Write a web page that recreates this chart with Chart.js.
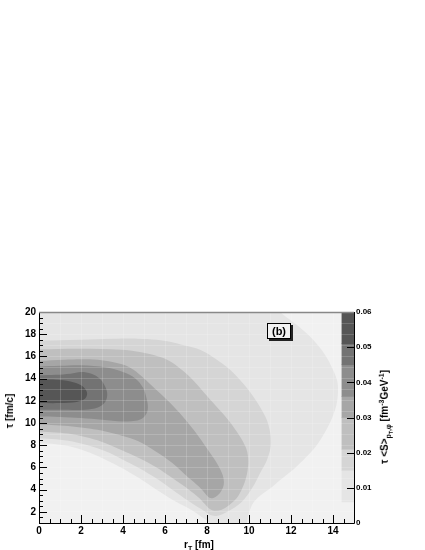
<!DOCTYPE html>
<html>
<head>
<meta charset="utf-8">
<script src="https://cdn.jsdelivr.net/npm/chart.js@4"></script>
<style>
body { margin: 0; background: #fff; }
#wrap { position: relative; width: 425px; height: 550px; font-family: "Liberation Sans", Arial, sans-serif; font-weight: bold; color: #000; }
canvas { position: absolute; left: 0; top: 0; }
.t { position: absolute; white-space: nowrap; font-size: 10px; line-height: 1; }
.t sub, .t sup { font-size: 70%; line-height: 0; }
#ytitle { left: 10px; top: 411px; transform: translate(-50%, -50%) rotate(-90deg); }
#xtitle { left: 199px; top: 545px; transform: translate(-50%, -50%); }
#ztitle { left: 386px; top: 417px; transform: translate(-50%, -50%) rotate(-90deg); }
#tag { position: absolute; left: 267px; top: 323px; width: 22px; height: 14px; border: 1px solid #000; background: #f2f2f2; box-shadow: 2px 2px 0 #222; font-size: 11px; text-align: center; line-height: 14px; }
</style>
</head>
<body>
<div id="wrap">
  <canvas id="contourChart" width="425" height="550"></canvas>
  <div class="t" id="ytitle">τ [fm/c]</div>
  <div class="t" id="xtitle">r<sub>T</sub> [fm]</div>
  <div class="t" id="ztitle">τ &lt;S&gt;<sub>p<sub>T</sub>,φ</sub> [fm<sup>-3</sup>GeV<sup>-1</sup>]</div>
  <div id="tag">(b)</div>
</div>
<script>
"use strict";

// tick labels
const rLabels = [0, 2, 4, 6, 8, 10, 12, 14];
const tauLabels = [2, 4, 6, 8, 10, 12, 14, 16, 18, 20];
const zLabels = [0, 0.01, 0.02, 0.03, 0.04, 0.05, 0.06];

// contour levels of tau<S> and the grey used above each one
const zLevels = [0, 0.006, 0.015, 0.021, 0.030, 0.036, 0.045, 0.051, 0.060];
const zColors = ['#f1f1f1', '#e5e5e5', '#d5d5d5', '#bfbfbf', '#a6a6a6', '#8d8d8d', '#737373', '#565656'];

// contour outlines, [r_T fm, tau fm/c]
const cont006 = [[-1,21],[11.1,21],[11.48,20],[12.3,18.8],[13.05,17.5],[13.6,16.2],[14.0,14.8],[14.2,13.8],[14.24,13.0],
  [14.2,12.0],[14.1,11.2],[13.85,10.0],[13.5,8.8],[13.1,7.7],[12.6,6.7],[12.1,5.8],[11.5,4.9],[11.0,4.1],[10.5,3.4],
  [10.2,2.8],[10.05,2.2],[9.95,1.6],[9.9,1.0],[9.7,0.6],[9.2,0.5],[8.6,0.6],[8.2,0.9],[7.9,1.35],[7.6,1.75],[7.14,2.3],
  [6.35,3.1],[5.6,4.0],[4.76,5.05],[3.9,6.0],[3.17,6.7],[2.4,7.35],[1.59,7.85],[0.8,8.1],[0,8.19],[-1,8.25]];
const cont015 = [[-1,17.42],[0,17.42],[2,17.5],[3.5,17.58],[4.71,17.6],[5.6,17.5],[6.29,17.3],[6.9,17.0],[7.67,16.6],
  [8.4,15.8],[9.1,14.8],[9.7,13.6],[10.2,12.4],[10.6,11.2],[10.9,10.0],[11.05,8.2],[10.86,6.7],[10.5,5.4],[10.2,4.3],
  [9.8,3.2],[9.4,2.5],[8.9,1.95],[8.5,1.65],[8.2,1.7],[7.94,2.0],[7.5,2.5],[7.14,2.95],[6.35,4.0],[5.6,5.0],[4.76,5.95],
  [3.95,6.75],[3.17,7.45],[2.4,7.95],[1.59,8.34],[0.8,8.55],[0,8.64],[-1,8.7]];
const cont021 = [[-1,16.65],[0,16.65],[2,16.7],[3.9,16.6],[4.8,16.4],[5.5,16.1],[6.1,15.7],[6.6,15.1],[7.1,14.3],
  [7.7,13.1],[8.3,11.8],[9.0,10.3],[9.57,8.8],[9.85,7.8],[9.95,7.0],[9.95,6.0],[9.85,5.0],[9.65,4.0],[9.4,3.2],
  [9.05,2.6],[8.7,2.2],[8.35,2.1],[8.1,2.3],[7.9,2.7],[7.6,3.3],[7.14,4.0],[6.35,5.05],[5.6,6.0],[4.76,6.85],
  [3.95,7.55],[3.17,8.19],[2.4,8.65],[1.59,9.0],[0.8,9.15],[0,9.24],[-1,9.28]];
const cont030 = [[-1,15.6],[0,15.6],[1.2,15.7],[2,15.75],[2.8,15.7],[3.5,15.5],[4.1,15.2],[4.5,14.8],[4.9,14.2],
  [5.3,13.5],[5.7,12.8],[6.2,11.9],[6.7,10.9],[7.4,9.3],[8.0,7.7],[8.5,6.3],[8.75,5.3],[8.8,4.5],[8.65,3.8],
  [8.4,3.35],[8.15,3.25],[7.94,3.6],[7.6,4.3],[7.14,5.05],[6.35,6.4],[5.56,7.44],[4.76,8.34],[3.95,8.85],
  [3.17,9.24],[2.4,9.5],[1.59,9.69],[0.8,9.8],[0,9.84],[-1,9.86]];
const cont036 = [[-1,15.1],[0,15.1],[1,15.15],[2,15.2],[3.2,15.0],[4.0,14.6],[4.6,14.0],[4.95,13.2],[5.1,12.4],
  [5.18,11.6],[5.15,11.0],[4.95,10.45],[4.6,10.2],[4.0,10.15],[3.0,10.3],[2,10.45],[1,10.55],[0,10.6],[-1,10.62]];
const cont045 = [[-1,14.3],[0,14.3],[0.8,14.35],[1.5,14.45],[2.0,14.6],[2.5,14.45],[2.9,14.0],[3.15,13.3],[3.25,12.6],
  [3.15,11.9],[2.8,11.4],[2.2,11.2],[1,11.2],[0,11.2],[-1,11.2]];
const cont051 = [[-1,13.9],[0,13.9],[0.8,13.9],[1.5,13.75],[2.0,13.4],[2.28,12.8],[2.2,12.2],[1.8,11.9],[1,11.8],
  [0,11.8],[-1,11.8]];

const contours = [cont006, cont015, cont021, cont030, cont036, cont045, cont051];
const barX = 14.71; // colour bar sits inside the right edge of the frame

const datasets = contours.map((pts, i) => ({
    data: pts.map(p => ({x: p[0], y: p[1]})),
    showLine: true,
    fill: 'shape',
    backgroundColor: zColors[i + 1],
    borderColor: 'rgba(0,0,0,0)',
    borderWidth: 0,
    pointRadius: 0,
    tension: 0.35,
    order: 20 - i
}));

datasets.push({
    type: 'bar',
    yAxisID: 'yc',
    data: zColors.map((c, i) => ({x: barX, y: [zLevels[i], zLevels[i + 1]]})),
    backgroundColor: zColors,
    borderWidth: 0,
    barThickness: 12,
    order: 1
});

const labelFont = {family: '"Liberation Sans", Arial, sans-serif', weight: 'bold', size: 10};

function faint(lo, hi) {
    return ctx => (ctx.tick && ctx.tick.value > lo && ctx.tick.value < hi) ? 'rgba(255,255,255,0.17)' : 'rgba(0,0,0,0)';
}

// ROOT style frame: grey pad, ticks pointing inwards
const rootFrame = {
    id: 'rootFrame',
    beforeDatasetsDraw(chart) {
        const a = chart.chartArea, c = chart.ctx;
        c.save();
        c.fillStyle = zColors[0];
        c.fillRect(a.left, a.top, a.right - a.left, a.bottom - a.top);
        c.restore();
    },
    afterDraw(chart) {
        const c = chart.ctx, a = chart.chartArea, s = chart.scales;
        c.save();
        c.strokeStyle = '#000';
        c.lineWidth = 1;
        c.beginPath();
        for (let v = 0; v <= 14.5; v += 0.5) {
            const x = Math.round(s.x.getPixelForValue(v)) + 0.5;
            const len = v % 2 === 0 ? 8 : 4;
            c.moveTo(x, a.bottom);
            c.lineTo(x, a.bottom - len);
        }
        for (let v = 1; v <= 20; v += 0.5) {
            const y = Math.round(s.y.getPixelForValue(v)) + 0.5;
            const len = v % 2 === 0 ? 8 : 4;
            c.moveTo(a.left, y);
            c.lineTo(a.left + len, y);
        }
        zLabels.forEach(v => {
            const y = Math.round(s.yc.getPixelForValue(v)) + 0.5;
            c.moveTo(a.right - 7, y);
            c.lineTo(a.right, y);
        });
        c.moveTo(a.left + 0.5, a.top);
        c.lineTo(a.left + 0.5, a.bottom + 0.5);
        c.lineTo(a.right + 0.5, a.bottom + 0.5);
        c.lineTo(a.right + 0.5, a.top);
        c.stroke();
        c.strokeStyle = '#888';
        c.lineWidth = 1.5;
        c.beginPath();
        c.moveTo(a.left, a.top + 0.5);
        c.lineTo(a.right, a.top + 0.5);
        c.stroke();
        c.restore();
    }
};

new Chart(document.getElementById('contourChart').getContext('2d'), {
    type: 'scatter',
    data: {datasets: datasets},
    options: {
        responsive: false,
        animation: false,
        devicePixelRatio: 1,
        layout: {padding: {top: 312, left: 0, right: 0, bottom: 0}},
        plugins: {legend: {display: false}, tooltip: {enabled: false}},
        scales: {
            x: {
                type: 'linear', min: 0, max: 15, offset: false,
                afterFit: s => { s.height = 27; },
                ticks: {
                    stepSize: 1, autoSkip: false, maxRotation: 0, padding: 2, color: '#000', font: labelFont,
                    callback: v => rLabels.includes(v) ? String(v) : ''
                },
                grid: {z: 1, drawTicks: false, offset: false, color: faint(0, 14.5)},
                border: {display: false}
            },
            y: {
                type: 'linear', min: 1, max: 20,
                afterFit: s => { s.width = 39; },
                ticks: {
                    stepSize: 1, autoSkip: false, padding: 3, color: '#000', font: labelFont,
                    callback: v => tauLabels.includes(v) ? String(v) : ''
                },
                grid: {z: 1, drawTicks: false, color: faint(1, 20)},
                border: {display: false}
            },
            yc: {
                type: 'linear', position: 'right', min: 0, max: 0.06,
                afterFit: s => { s.width = 71; },
                afterBuildTicks: s => { s.ticks = zLabels.map(v => ({value: v})); },
                ticks: {
                    autoSkip: false, padding: 2, color: '#000',
                    font: {family: labelFont.family, weight: 'bold', size: 8},
                    callback: v => v === 0 ? '0' : v.toFixed(2)
                },
                grid: {display: false, drawTicks: false},
                border: {display: false}
            }
        }
    },
    plugins: [rootFrame]
});
</script>
</body>
</html>
